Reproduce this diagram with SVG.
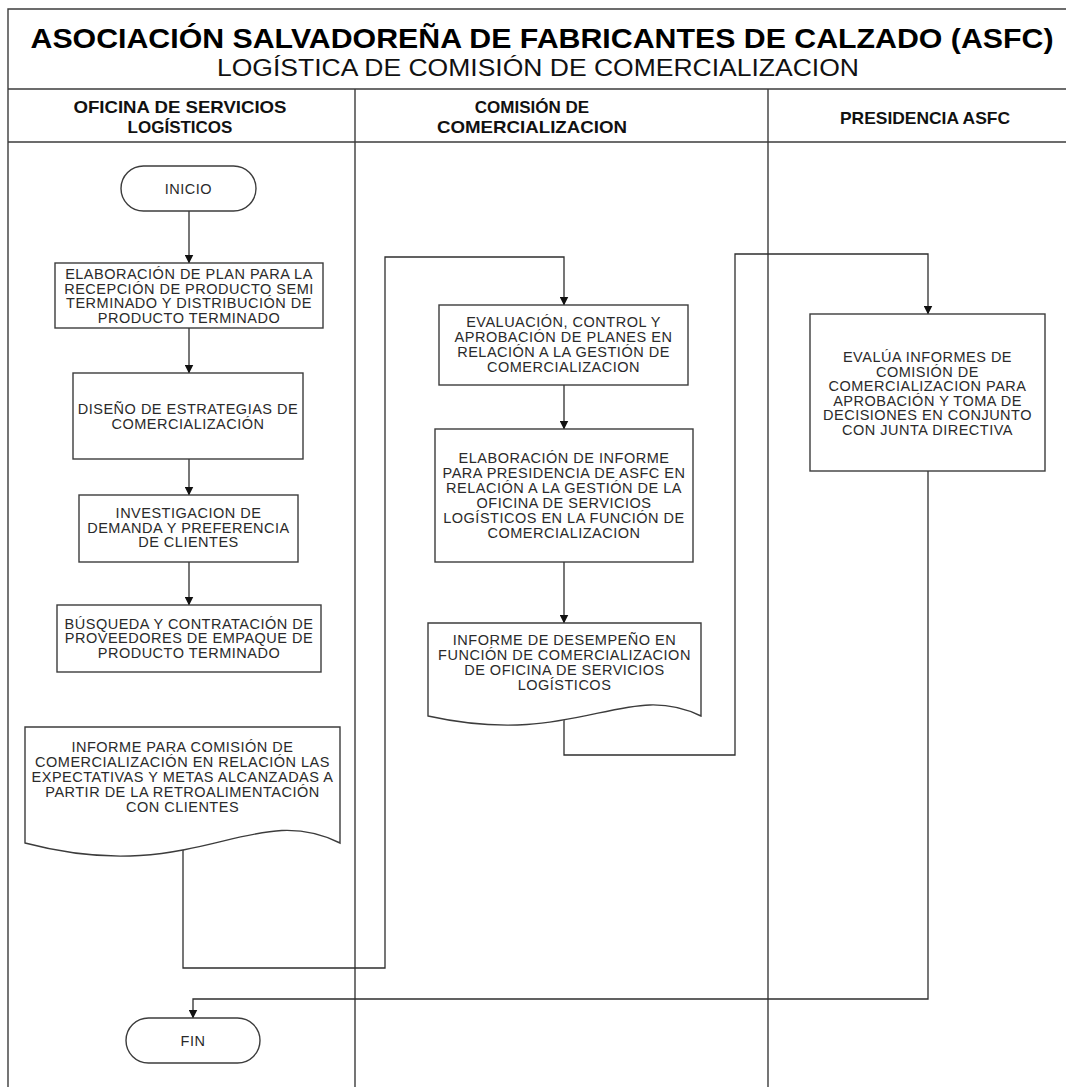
<svg xmlns="http://www.w3.org/2000/svg" width="1066" height="1087" viewBox="0 0 1066 1087">
  <style>
    .frame { fill: none; stroke: #3c3c3c; stroke-width: 1.4; }
    .shape { fill: #ffffff; stroke: #3c3c3c; stroke-width: 1.4; }
    .conn { fill: none; stroke: #2e2e2e; stroke-width: 1.3; }
    .title { font-family: "Liberation Sans", Arial, sans-serif; font-weight: bold; font-size: 28px; fill: #000; text-anchor: middle; }
    .subtitle { font-family: "Liberation Sans", Arial, sans-serif; font-size: 23px; fill: #111; text-anchor: middle; }
    .lane { font-family: "Liberation Sans", Arial, sans-serif; font-weight: bold; font-size: 17px; fill: #111; text-anchor: middle; }
    .label { font-family: "Liberation Sans", Arial, sans-serif; font-size: 14.5px; letter-spacing: 0.5px; fill: #2a2a2a; text-anchor: middle; }
  </style>
  <defs>
    <marker id="arrow" markerWidth="9" markerHeight="9" refX="8.5" refY="4.5" orient="auto" markerUnits="userSpaceOnUse">
      <path d="M0,0 L9,4.5 L0,9 z" fill="#111"/>
    </marker>
  </defs>

  <rect width="1066" height="1087" fill="#ffffff"/>

  <!-- swimlane frame -->
  <g id="frame">
    <path class="frame" d="M8,1087 V9 H1066"/>
    <path class="frame" d="M8,89 H1066 M8,142 H1066"/>
    <path class="frame" d="M355,89 V1087 M768,89 V1087"/>
    <text class="title" x="542" y="47.5" textLength="1023" lengthAdjust="spacingAndGlyphs">ASOCIACIÓN SALVADOREÑA DE FABRICANTES DE CALZADO (ASFC)</text>
    <text class="subtitle" x="538" y="75.5" textLength="642" lengthAdjust="spacingAndGlyphs">LOGÍSTICA DE COMISIÓN DE COMERCIALIZACION</text>
  </g>

  <g id="lane-oficina">
    <text class="lane" x="180" y="113" textLength="213" lengthAdjust="spacingAndGlyphs">OFICINA DE SERVICIOS</text>
    <text class="lane" x="180" y="133">LOGÍSTICOS</text>
  </g>
  <g id="lane-comision">
    <text class="lane" x="532" y="113">COMISIÓN DE</text>
    <text class="lane" x="532" y="133" textLength="190" lengthAdjust="spacingAndGlyphs">COMERCIALIZACION</text>
  </g>
  <g id="lane-presidencia">
    <text class="lane" x="925" y="124" textLength="170" lengthAdjust="spacingAndGlyphs">PRESIDENCIA ASFC</text>
  </g>

  <!-- connectors -->
  <g id="connectors">
    <path class="conn" d="M189,211 V263" marker-end="url(#arrow)"/>
    <path class="conn" d="M189,328 V373" marker-end="url(#arrow)"/>
    <path class="conn" d="M189,459 V495" marker-end="url(#arrow)"/>
    <path class="conn" d="M189,562 V605" marker-end="url(#arrow)"/>
    <path class="conn" d="M183,846 V968 H385 V257 H564 V305" marker-end="url(#arrow)"/>
    <path class="conn" d="M564,385 V429" marker-end="url(#arrow)"/>
    <path class="conn" d="M564,562 V623" marker-end="url(#arrow)"/>
    <path class="conn" d="M564,717 V755 H735 V254 H928 V314" marker-end="url(#arrow)"/>
    <path class="conn" d="M928,471 V999 H193 V1018" marker-end="url(#arrow)"/>
  </g>

  <!-- nodes -->
  <g id="inicio">
    <rect class="shape" x="121" y="166" width="135" height="45" rx="22.5" ry="22.5"/>
    <text class="label" x="188.5" y="194">INICIO</text>
  </g>

  <g id="plan-recepcion">
    <rect class="shape" x="55" y="263" width="268" height="65"/>
    <text class="label" x="189" y="279">ELABORACIÓN DE PLAN PARA LA</text>
    <text class="label" x="189" y="293.5">RECEPCIÓN DE PRODUCTO SEMI</text>
    <text class="label" x="189" y="308">TERMINADO Y DISTRIBUCIÓN DE</text>
    <text class="label" x="189" y="322.5">PRODUCTO TERMINADO</text>
  </g>

  <g id="diseno-estrategias">
    <rect class="shape" x="73" y="373" width="230" height="86"/>
    <text class="label" x="188" y="414">DISEÑO DE ESTRATEGIAS DE</text>
    <text class="label" x="188" y="428.5">COMERCIALIZACIÓN</text>
  </g>

  <g id="investigacion-demanda">
    <rect class="shape" x="79" y="495" width="219" height="67"/>
    <text class="label" x="188.5" y="518">INVESTIGACION DE</text>
    <text class="label" x="188.5" y="532.5">DEMANDA Y PREFERENCIA</text>
    <text class="label" x="188.5" y="547">DE CLIENTES</text>
  </g>

  <g id="busqueda-proveedores">
    <rect class="shape" x="57" y="605" width="264" height="67"/>
    <text class="label" x="189" y="628.5">BÚSQUEDA Y CONTRATACIÓN DE</text>
    <text class="label" x="189" y="643">PROVEEDORES DE EMPAQUE DE</text>
    <text class="label" x="189" y="657.5">PRODUCTO TERMINADO</text>
  </g>

  <g id="informe-comision">
    <path class="shape" d="M25,727 H340 V843 C252,799 195,888 25,843 Z"/>
    <text class="label" x="182.5" y="752">INFORME PARA COMISIÓN DE</text>
    <text class="label" x="182.5" y="767">COMERCIALIZACIÓN EN RELACIÓN LAS</text>
    <text class="label" x="182.5" y="782">EXPECTATIVAS Y METAS ALCANZADAS A</text>
    <text class="label" x="182.5" y="797">PARTIR DE LA RETROALIMENTACIÓN</text>
    <text class="label" x="182.5" y="812">CON CLIENTES</text>
  </g>

  <g id="evaluacion-control">
    <rect class="shape" x="439" y="305" width="249" height="80"/>
    <text class="label" x="563.5" y="327">EVALUACIÓN, CONTROL Y</text>
    <text class="label" x="563.5" y="342">APROBACIÓN DE PLANES EN</text>
    <text class="label" x="563.5" y="357">RELACIÓN A LA GESTIÓN DE</text>
    <text class="label" x="563.5" y="372">COMERCIALIZACION</text>
  </g>

  <g id="informe-presidencia">
    <rect class="shape" x="435" y="429" width="258" height="133"/>
    <text class="label" x="564" y="463">ELABORACIÓN DE INFORME</text>
    <text class="label" x="564" y="478">PARA PRESIDENCIA DE ASFC EN</text>
    <text class="label" x="564" y="493">RELACIÓN A LA  GESTIÓN DE LA</text>
    <text class="label" x="564" y="508">OFICINA DE SERVICIOS</text>
    <text class="label" x="564" y="523">LOGÍSTICOS EN LA FUNCIÓN DE</text>
    <text class="label" x="564" y="538">COMERCIALIZACION</text>
  </g>

  <g id="informe-desempeno">
    <path class="shape" d="M428,623 H701 V716 C625,679 577,749 428,716 Z"/>
    <text class="label" x="564.5" y="645">INFORME DE DESEMPEÑO EN</text>
    <text class="label" x="564.5" y="660">FUNCIÓN DE COMERCIALIZACION</text>
    <text class="label" x="564.5" y="675">DE OFICINA DE SERVICIOS</text>
    <text class="label" x="564.5" y="690">LOGÍSTICOS</text>
  </g>

  <g id="evalua-informes">
    <rect class="shape" x="810" y="314" width="235" height="157"/>
    <text class="label" x="927.5" y="362">EVALÚA INFORMES DE</text>
    <text class="label" x="927.5" y="376.6">COMISIÓN DE</text>
    <text class="label" x="927.5" y="391.2">COMERCIALIZACION PARA</text>
    <text class="label" x="927.5" y="405.8">APROBACIÓN Y TOMA DE</text>
    <text class="label" x="927.5" y="420.4">DECISIONES EN CONJUNTO</text>
    <text class="label" x="927.5" y="435">CON JUNTA DIRECTIVA</text>
  </g>

  <g id="fin">
    <rect class="shape" x="126" y="1018" width="134" height="45" rx="22.5" ry="22.5"/>
    <text class="label" x="193" y="1046">FIN</text>
  </g>
</svg>
